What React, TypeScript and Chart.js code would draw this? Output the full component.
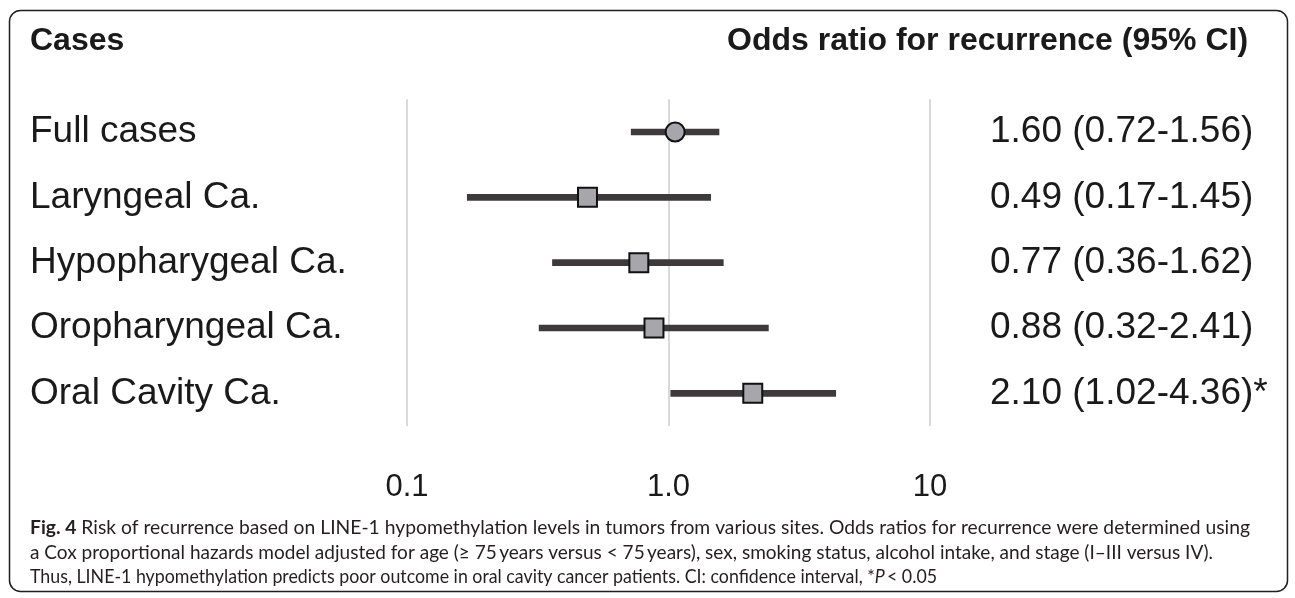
import React, { useEffect, useRef } from 'react';
import { Chart, registerables } from 'chart.js';

Chart.register(...registerables);

const categories = ['Full cases', 'Laryngeal Ca.', 'Hypopharygeal Ca.', 'Oropharyngeal Ca.', 'Oral Cavity Ca.'];
const ciLabels = ['1.60 (0.72-1.56)', '0.49 (0.17-1.45)', '0.77 (0.36-1.62)', '0.88 (0.32-2.41)', '2.10 (1.02-4.36)*'];
const oddsRatio = [1.06, 0.49, 0.77, 0.88, 2.1];
const ciLow = [0.72, 0.17, 0.36, 0.32, 1.02];
const ciHigh = [1.56, 1.45, 1.62, 2.41, 4.36];
const markerStyles = ['circle', 'rect', 'rect', 'rect', 'rect'];
const tickValues = [0.1, 1, 10];
const tickLabels = ['0.1', '1.0', '10'];
const headerLeft = 'Cases';
const headerRight = 'Odds ratio for recurrence (95% CI)';

type Seg = { t: string; s?: 'b' | 'i' };
const captionLines: Seg[][] = [
  [
    { t: 'Fig. 4', s: 'b' },
    { t: ' Risk of recurrence based on LINE-1 hypomethylation levels in tumors from various sites. Odds ratios for recurrence were determined using' },
  ],
  [
    { t: 'a Cox proportional hazards model adjusted for age (\u2265 75\u2009years versus < 75\u2009years), sex, smoking status, alcohol intake, and stage (I\u2013III versus IV).' },
  ],
  [
    { t: 'Thus, LINE-1 hypomethylation predicts poor outcome in oral cavity cancer patients. CI: confidence interval, *' },
    { t: 'P', s: 'i' },
    { t: '\u2009< 0.05' },
  ],
];

const SANS = '"Liberation Sans", Arial, sans-serif';
const CAP = 'Lato, "Open Sans", sans-serif';
const TEXT = '#1a1a1a';

const fontFor = (s: string | undefined, px: number) =>
  `${s === 'b' ? 'bold ' : s === 'i' ? 'italic ' : ''}${px}px ${CAP}`;

const lineWidth = (ctx: CanvasRenderingContext2D, line: Seg[], px: number) => {
  let w = 0;
  for (const seg of line) {
    ctx.font = fontFor(seg.s, px);
    w += ctx.measureText(seg.t).width;
  }
  return w;
};

const framePlugin = {
  id: 'frame',
  afterDraw(chart: any) {
    const ctx: CanvasRenderingContext2D = chart.ctx;
    ctx.save();
    ctx.strokeStyle = '#231f20';
    ctx.lineWidth = 1.5;
    ctx.beginPath();
    (ctx as any).roundRect(9.5, 10.5, 1278, 581, 11);
    ctx.stroke();

    ctx.fillStyle = TEXT;
    ctx.textAlign = 'left';
    ctx.textBaseline = 'alphabetic';
    ctx.font = `bold 32px ${SANS}`;
    ctx.fillText(headerLeft, 30, 50);
    ctx.fillText(headerRight, 727, 50);

    // caption: size from lines 2-3, then stretch each line to its width
    const base = 17;
    const targets = [1220, 1183, 907];
    const nat = captionLines.map((l) => lineWidth(ctx, l, base));
    const fs = (base * (targets[1] + targets[2])) / (nat[1] + nat[2]);
    const baselines = [534, 558.5, 583];
    ctx.fillStyle = '#231f20';
    captionLines.forEach((line, li) => {
      const w = lineWidth(ctx, line, fs);
      const sx = targets[li] / w;
      ctx.save();
      ctx.translate(30, baselines[li]);
      ctx.scale(sx, 1);
      let x = 0;
      for (const seg of line) {
        ctx.font = fontFor(seg.s, fs);
        ctx.fillText(seg.t, x, 0);
        x += ctx.measureText(seg.t).width;
      }
      ctx.restore();
    });
    ctx.restore();
  },
};

export default function App() {
  const ref = useRef<HTMLCanvasElement | null>(null);
  useEffect(() => {
    if (!ref.current) return;
    const chart = new Chart(ref.current, {
      type: 'bar',
      data: {
        labels: categories,
        datasets: [
          {
            type: 'line',
            indexAxis: 'y',
            data: oddsRatio,
            showLine: false,
            pointStyle: markerStyles as any,
            pointRadius: markerStyles.map((m) => (m === 'circle' ? 9.5 : 13.4)),
            pointBackgroundColor: '#a7a6ab',
            pointBorderColor: '#111111',
            pointBorderWidth: 2,
            order: 0,
          } as any,
          {
            type: 'bar',
            indexAxis: 'y',
            data: ciLow.map((l, i) => [l, ciHigh[i]]),
            backgroundColor: '#3d3a3b',
            barThickness: 6,
            borderWidth: 0,
            order: 1,
          } as any,
        ],
      },
      options: {
        indexAxis: 'y',
        responsive: false,
        animation: false,
        devicePixelRatio: 1,
        layout: { padding: { left: 30, right: 10, top: 99.3, bottom: 92 } },
        plugins: { legend: { display: false }, tooltip: { enabled: false } },
        scales: {
          x: {
            type: 'logarithmic',
            position: 'bottom',
            min: 0.1,
            max: 10,
            afterBuildTicks: (s: any) => {
              s.ticks = tickValues.map((v) => ({ value: v }));
            },
            afterFit: (s: any) => {
              s.height = 80;
            },
            ticks: {
              callback: (_v: any, i: number) => tickLabels[i],
              font: { family: SANS, size: 31 },
              color: TEXT,
              padding: 43,
              autoSkip: false,
              maxRotation: 0,
            },
            grid: { color: '#d9d9d9', lineWidth: 2, drawTicks: false },
            border: { display: false },
          },
          y: {
            type: 'category',
            position: 'left',
            offset: true,
            afterFit: (s: any) => {
              s.width = 377;
            },
            ticks: { crossAlign: 'far', font: { family: SANS, size: 37 }, color: TEXT },
            grid: { display: false },
            border: { display: false },
          },
          y2: {
            type: 'category',
            position: 'right',
            labels: ciLabels,
            offset: true,
            afterFit: (s: any) => {
              s.width = 355;
            },
            ticks: { crossAlign: 'near', padding: 52, font: { family: SANS, size: 37 }, color: TEXT },
            grid: { display: false },
            border: { display: false },
          },
        } as any,
      },
      plugins: [framePlugin],
    });
    return () => chart.destroy();
  }, []);
  return (
    <div style={{ position: 'absolute', left: 0, top: 0, width: 1295, height: 598, background: '#fff' }}>
      <canvas ref={ref} width={1295} height={598} />
    </div>
  );
}
